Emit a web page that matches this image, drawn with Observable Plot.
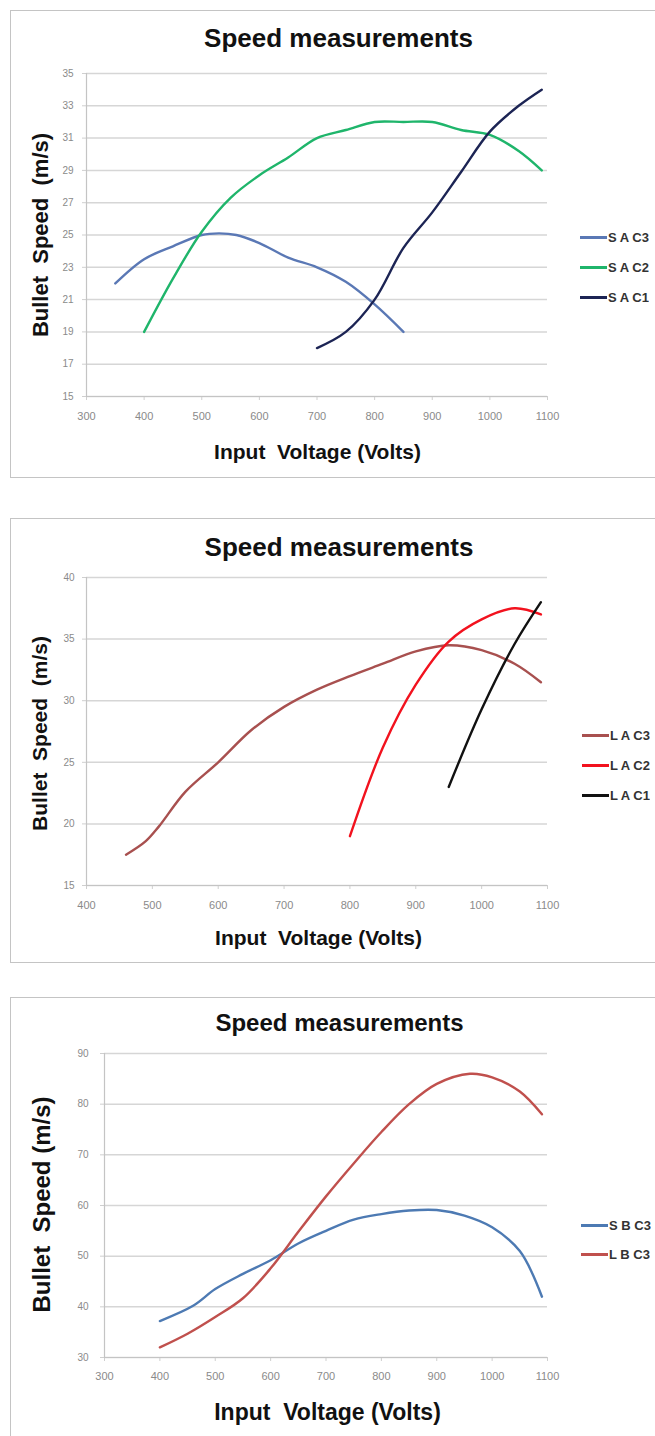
<!DOCTYPE html>
<html><head><meta charset="utf-8">
<script src="https://cdn.jsdelivr.net/npm/d3@7"></script>
<script src="https://cdn.jsdelivr.net/npm/@observablehq/plot@0.6"></script>
<style>
html,body{margin:0;padding:0;background:#fff;}
body{width:655px;height:1436px;overflow:hidden;position:relative;font-family:"Liberation Sans",Arial,sans-serif;}
.box{position:absolute;border:1.5px solid #c4c4c4;box-sizing:border-box;background:#fff;}
.chart{position:absolute;left:0;}
.legend{position:absolute;}
svg text{white-space:pre;}
</style></head><body>
<script>
// ---------- shared text ----------
const titleText = "Speed measurements";
const xLabelText = "Input  Voltage (Volts)";
const yLabelText1 = "Bullet  Speed  (m/s)";
const yLabelText3 = "Bullet  Speed (m/s)";

// ---------- Chart 1 data ----------
const c1Names = ["S A C3", "S A C2", "S A C1"];
const c1Colors = ["#5a78b5", "#1fb56b", "#1c2454"];
const c1XTicks = [300, 400, 500, 600, 700, 800, 900, 1000, 1100];
const c1YTicks = [15, 17, 19, 21, 23, 25, 27, 29, 31, 33, 35];
const sac3Volts = [350, 400, 450, 500, 530, 560, 600, 650, 700, 750, 800, 850];
const sac3Speed = [22, 23.5, 24.3, 25, 25.1, 25, 24.5, 23.6, 23, 22.1, 20.7, 19];
const sac2Volts = [400, 450, 500, 550, 600, 650, 700, 750, 800, 850, 900, 950, 1000, 1050, 1090];
const sac2Speed = [19, 22.3, 25.2, 27.3, 28.7, 29.8, 31, 31.5, 32, 32, 32, 31.5, 31.2, 30.2, 29];
const sac1Volts = [700, 750, 800, 850, 900, 950, 1000, 1050, 1090];
const sac1Speed = [18, 19, 21, 24.2, 26.4, 28.9, 31.4, 33, 34];

// ---------- Chart 2 data ----------
const c2Names = ["L A C3", "L A C2", "L A C1"];
const c2Colors = ["#a8504f", "#f2121e", "#111111"];
const c2XTicks = [400, 500, 600, 700, 800, 900, 1000, 1100];
const c2YTicks = [15, 20, 25, 30, 35, 40];
const lac3Volts = [460, 490, 510, 550, 600, 650, 700, 750, 800, 850, 900, 950, 1000, 1050, 1090];
const lac3Speed = [17.5, 18.6, 19.8, 22.6, 25, 27.6, 29.5, 30.9, 32, 33, 34, 34.5, 34.1, 33, 31.5];
const lac2Volts = [800, 850, 900, 950, 1000, 1050, 1090];
const lac2Speed = [19, 26.2, 31.3, 34.8, 36.6, 37.5, 37];
const lac1Volts = [950, 1000, 1050, 1090];
const lac1Speed = [23, 29.3, 34.6, 38];

// ---------- Chart 3 data ----------
const c3Names = ["S B C3", "L B C3"];
const c3Colors = ["#4d7ab3", "#c0504d"];
const c3XTicks = [300, 400, 500, 600, 700, 800, 900, 1000, 1100];
const c3YTicks = [30, 40, 50, 60, 70, 80, 90];
const sbc3Volts = [400, 460, 500, 550, 600, 650, 700, 750, 800, 850, 900, 950, 1000, 1050, 1090];
const sbc3Speed = [37.2, 40.2, 43.5, 46.5, 49.2, 52.5, 55, 57.2, 58.3, 59, 59.1, 58, 55.7, 51, 42];
const lbc3Volts = [400, 450, 500, 550, 600, 650, 700, 750, 800, 850, 900, 960, 1000, 1050, 1090];
const lbc3Speed = [32, 34.7, 38, 41.7, 47.6, 54.8, 61.8, 68.3, 74.5, 80, 84, 86, 85.3, 82.5, 78];

function tidy(names, xs, ys) {
  return names.flatMap((n, k) => xs[k].map((v, i) => ({series: n, volts: v, speed: ys[k][i]})));
}

function box(top, height) {
  const d = document.createElement("div");
  d.className = "box";
  Object.assign(d.style, {left: "10px", top: top + "px", width: "660px", height: height + "px"});
  document.body.appendChild(d);
}

function chart(o) {
  const data = tidy(o.names, o.xs, o.ys);
  const p = Plot.plot({
    width: 655, height: o.height,
    marginLeft: o.ml, marginRight: 108, marginTop: o.mt, marginBottom: o.mb,
    style: {background: "transparent", overflow: "visible", color: "#8a8a8a", fontFamily: "'Liberation Sans', Arial, sans-serif"},
    x: {domain: o.xDomain},
    y: {domain: o.yDomain},
    color: {domain: o.names, range: o.colors},
    marks: [
      Plot.gridY(o.yTicks, {stroke: "#d6d6d6", strokeOpacity: 1, strokeWidth: 1.5}),
      Plot.axisX(o.xTicks, {tickSize: 4, tickPadding: o.xPad, fontSize: 11, label: null, stroke: "#cfcfcf", tickFormat: d => String(d)}),
      Plot.axisY(o.yTicks, {tickSize: 4, tickPadding: o.yPad, fontSize: 10, label: null, stroke: "#cfcfcf", tickFormat: d => String(d)}),
      Plot.ruleX([o.xDomain[0]], {stroke: "#c4c4c4", strokeWidth: 1.2}),
      Plot.ruleY([o.yDomain[0]], {stroke: "#c4c4c4", strokeWidth: 1.2}),
      Plot.line(data, {x: "volts", y: "speed", z: "series", stroke: "series", strokeWidth: 2.4, curve: "catmull-rom"}),
      Plot.text([titleText], {text: d => d, frameAnchor: "top", dx: o.tdx, dy: o.tdy, fontSize: o.tSize, fontWeight: "bold", fill: "#111", lineAnchor: "middle", textAnchor: "middle"}),
      Plot.text([xLabelText], {text: d => d, frameAnchor: "bottom", dx: o.xldx, dy: o.xldy, fontSize: o.xlSize, fontWeight: "bold", fill: "#111", lineAnchor: "middle", textAnchor: "middle"}),
      Plot.text([o.yLabel], {text: d => d, frameAnchor: "left", dx: o.yldx, dy: o.yldy, rotate: -90, fontSize: o.ylSize, fontWeight: "bold", fill: "#111", lineAnchor: "middle", textAnchor: "middle"})
    ]
  });
  p.classList.add("chart");
  p.style.top = o.top + "px";
  document.body.appendChild(p);

  const lg = Plot.legend({
    color: {type: "ordinal", domain: o.names, range: o.colors},
    legend: "swatches", columns: 1, swatchWidth: 27, swatchHeight: 3,
    style: {fontSize: "13px", fontWeight: "bold", color: "#333", fontFamily: "'Liberation Sans', Arial, sans-serif", margin: "0"}
  });
  lg.classList.add("legend");
  Object.assign(lg.style, {left: o.lgLeft + "px", top: o.lgTop + "px", width: "80px"});
  lg.querySelectorAll(":scope > div").forEach(d => {
    d.style.height = o.lgRow + "px";
    d.style.paddingBottom = "0";
    d.style.margin = "0";
    const s = d.querySelector("svg");
    if (s) s.style.marginRight = "1px";
  });
  document.body.appendChild(lg);
}

box(10, 468);
box(518, 445);
box(997, 500);

chart({
  top: 0, height: 480, ml: 86, mt: 73, mb: 84,
  names: c1Names, colors: c1Colors,
  xs: [sac3Volts, sac2Volts, sac1Volts], ys: [sac3Speed, sac2Speed, sac1Speed],
  xDomain: [300, 1100], yDomain: [15, 35], xTicks: c1XTicks, yTicks: c1YTicks,
  xPad: 12, yPad: 9,
  tdx: 21.5, tdy: -35, tSize: 26,
  xldx: 0.5, xldy: 56, xlSize: 21,
  yLabel: yLabelText1, yldx: -45.5, yldy: 0, ylSize: 22,
  lgLeft: 580, lgTop: 222, lgRow: 30
});

chart({
  top: 490, height: 475, ml: 86, mt: 87, mb: 80,
  names: c2Names, colors: c2Colors,
  xs: [lac3Volts, lac2Volts, lac1Volts], ys: [lac3Speed, lac2Speed, lac1Speed],
  xDomain: [400, 1100], yDomain: [15, 40], xTicks: c2XTicks, yTicks: c2YTicks,
  xPad: 12, yPad: 8,
  tdx: 22, tdy: -30, tSize: 26,
  xldx: 1.5, xldy: 53, xlSize: 21,
  yLabel: yLabelText1, yldx: -46, yldy: 2, ylSize: 21,
  lgLeft: 582, lgTop: 720, lgRow: 30
});

chart({
  top: 980, height: 456, ml: 104, mt: 73, mb: 79,
  names: c3Names, colors: c3Colors,
  xs: [sbc3Volts, lbc3Volts], ys: [sbc3Speed, lbc3Speed],
  xDomain: [300, 1100], yDomain: [30, 90], xTicks: c3XTicks, yTicks: c3YTicks,
  xPad: 11, yPad: 12,
  tdx: 13.5, tdy: -30, tSize: 24,
  xldx: 1.5, xldy: 55, xlSize: 23,
  yLabel: yLabelText3, yldx: -62, yldy: -1, ylSize: 24,
  lgLeft: 581, lgTop: 1211, lgRow: 29
});
</script>
</body></html>
